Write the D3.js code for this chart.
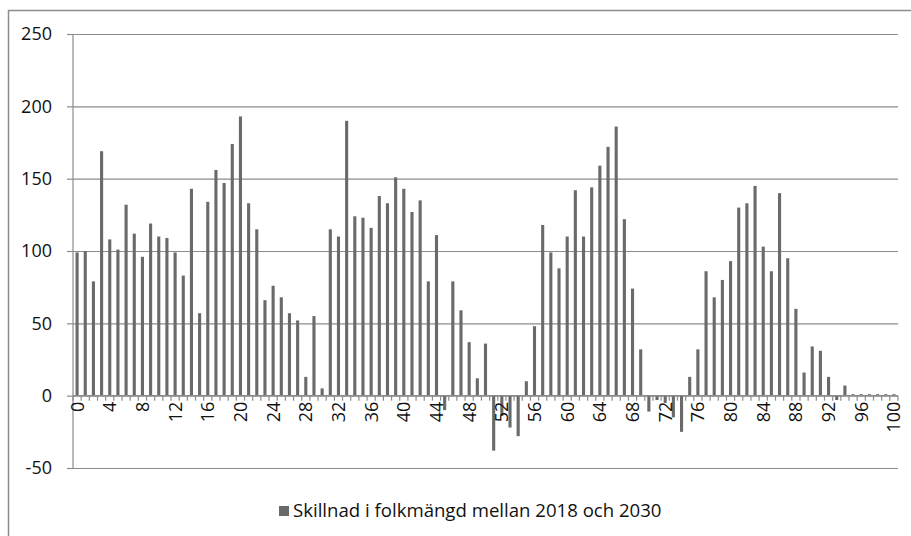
<!DOCTYPE html>
<html><head><meta charset="utf-8">
<script src="https://cdn.jsdelivr.net/npm/d3@7"></script>
<style>body{margin:0;background:#fff}svg{display:block}</style>
</head><body>
<script>
const ages = d3.range(0, 101);
const values = [
  99,100,79,169,108,101,132,112,96,119,
  110,109,99,83,143,57,134,156,147,174,
  193,133,115,66,76,68,57,52,13,55,
  5,115,110,190,124,123,116,138,133,151,
  143,127,135,79,111,-10,79,59,37,12,
  36,-38,-14,-22,-28,10,48,118,99,88,
  110,142,110,144,159,172,186,122,74,32,
  -11,-3,-5,-15,-25,13,32,86,68,80,
  93,130,133,145,103,86,140,95,60,16,
  34,31,13,-3,7,1,1,1,1,1,1
];
const yTicks = [-50, 0, 50, 100, 150, 200, 250];
const seriesName = "Skillnad i folkmängd mellan 2018 och 2030";

const W = 911, H = 536;
const font = "'Open Sans', sans-serif";
const svg = d3.select("body").append("svg").attr("width", W).attr("height", H);
svg.append("rect").attr("x", 8.5).attr("y", 10.5).attr("width", 920).attr("height", 540)
  .attr("fill", "none").attr("stroke", "#8c8c8c").attr("stroke-width", 1.5);

const x0 = 73, x1 = 898, yTop = 34, yBot = 468;
const x = d3.scaleBand().domain(ages).range([x0, x1]).paddingInner(0.62).paddingOuter(0.31);
const y = d3.scaleLinear().domain([-50, 250]).range([yBot, yTop]);
const grey = "#8c8c8c";

// gridlines + y ticks
const gy = svg.append("g").attr("transform", `translate(${x0},0)`)
  .call(d3.axisLeft(y).tickValues(yTicks).tickFormat(d => String(d))
    .tickSize(-(x1 - x0)).tickSizeOuter(0).tickPadding(21));
gy.select(".domain").remove();
gy.selectAll(".tick line").attr("stroke", grey).attr("stroke-width", 1.2);
gy.selectAll(".tick").append("line").attr("x1", -6).attr("x2", 0).attr("stroke", grey).attr("stroke-width", 1.2);
gy.selectAll("text").attr("font-family", font).attr("font-size", 18).attr("fill", "#111");
svg.append("line").attr("x1", x0).attr("x2", x0).attr("y1", yTop).attr("y2", yBot)
  .attr("stroke", grey).attr("stroke-width", 1.2);

// bars
svg.append("g").selectAll("rect").data(values).join("rect")
  .attr("x", (d, i) => x(ages[i]))
  .attr("width", x.bandwidth())
  .attr("y", d => y(Math.max(0, d)))
  .attr("height", d => Math.abs(y(d) - y(0)))
  .attr("fill", "#6a6a6a");

// x axis at zero
const step = x.step();
const gx = svg.append("g").attr("transform", `translate(0,${y(0)})`);
gx.append("line").attr("x1", x0).attr("x2", x1).attr("stroke", grey).attr("stroke-width", 1.2);
gx.selectAll("line.t").data(d3.range(0, 102)).join("line").attr("class", "t")
  .attr("x1", i => x0 + i * step).attr("x2", i => x0 + i * step)
  .attr("y1", 0).attr("y2", 5).attr("stroke", grey).attr("stroke-width", 1.2);
gx.selectAll("text").data(ages.filter(a => a % 4 === 0)).join("text")
  .attr("transform", a => `translate(${x(a) + x.bandwidth() / 2 + 6.5},6) rotate(-90)`)
  .attr("text-anchor", "end")
  .attr("font-family", font).attr("font-size", 18).attr("fill", "#111")
  .text(a => a);

// legend
const lg = svg.append("g").attr("transform", "translate(279,506)");
lg.append("rect").attr("width", 10).attr("height", 10).attr("fill", "#6a6a6a");
lg.append("text").attr("x", 14).attr("y", 11).attr("font-family", font).attr("font-size", 18.6)
  .attr("fill", "#111").text(seriesName);
</script>
</body></html>
